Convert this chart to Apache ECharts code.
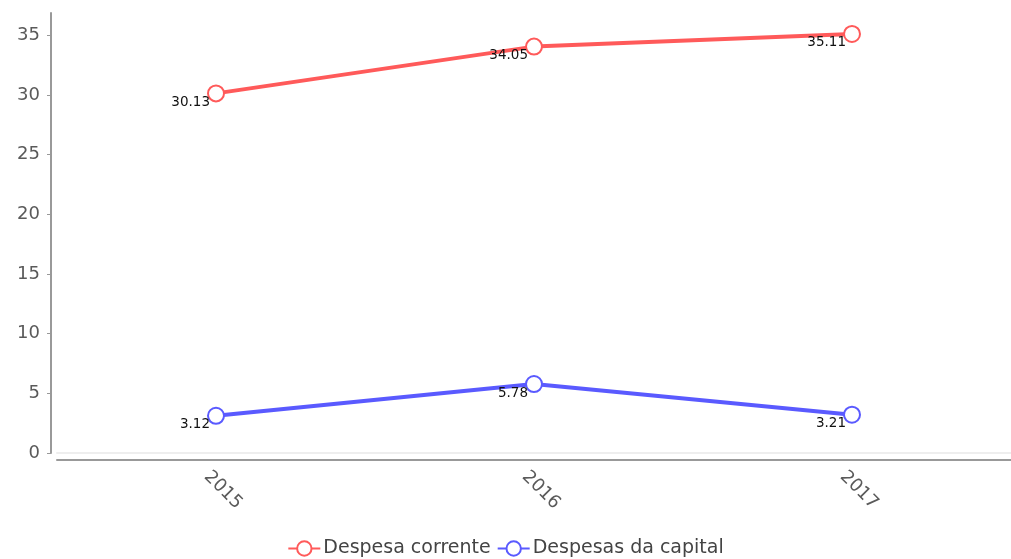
<!DOCTYPE html>
<html>
<head>
<meta charset="utf-8">
<script src="https://cdn.jsdelivr.net/npm/echarts@6/dist/echarts.min.js"></script>
<style>
  html, body { margin: 0; padding: 0; background: #fff; }
  #chart { width: 1011px; height: 559px; }
</style>
</head>
<body>
<div id="chart"></div>
<script>
// Years on the horizontal axis
var years = ['2015', '2016', '2017'];
// Series names and values
var nameCorrente = 'Despesa corrente';
var nameCapital = 'Despesas da capital';
var despesaCorrente = [30.13, 34.05, 35.11];
var despesasCapital = [3.12, 5.78, 3.21];

var chart = echarts.init(document.getElementById('chart'), null, { renderer: 'canvas' });

var axisFont = 'DejaVu Sans, Verdana, sans-serif';

function valueLabel() {
  return {
    show: true,
    position: 'left',
    offset: [8, 9],
    color: '#111',
    fontFamily: axisFont,
    fontSize: 13.5
  };
}

function lineSeries(name, data, color) {
  return {
    name: name,
    type: 'line',
    data: data,
    symbol: 'emptyCircle',
    symbolSize: 16,
    lineStyle: { color: color, width: 4 },
    itemStyle: { color: color, borderColor: color, borderWidth: 3 },
    label: valueLabel(),
    emphasis: { disabled: true },
    animation: false
  };
}

chart.setOption({
  backgroundColor: '#fff',
  animation: false,
  grid: { left: 57, right: -5, top: 13, bottom: 106 },
  legend: {
    bottom: -4,
    left: 'center',
    itemGap: 6,
    itemWidth: 32,
    itemHeight: 18,
    textStyle: { color: '#444', fontSize: 19, fontFamily: axisFont, padding: [0, 0, 0, -2] },
    data: [nameCorrente, nameCapital]
  },
  xAxis: [{
    type: 'category',
    data: years,
    offset: 7,
    boundaryGap: true,
    axisLine: { onZero: false, lineStyle: { color: '#999', width: 2 } },
    axisTick: { show: false },
    axisLabel: {
      rotate: -45,
      align: 'center',
      verticalAlign: 'middle',
      margin: 23,
      padding: [0, 0, 0, 20],
      color: '#5a5a5a',
      fontSize: 18,
      fontFamily: axisFont
    },
    z: 3
  }, {
    type: 'category',
    data: years,
    position: 'bottom',
    offset: 0,
    axisLine: { onZero: false, lineStyle: { color: '#eee', width: 2 } },
    axisTick: { show: false },
    axisLabel: { show: false }
  }],
  yAxis: {
    type: 'value',
    min: 0,
    max: function (v) { return v.max * 1.05; },
    interval: 5,
    offset: 6,
    axisLine: { show: true, lineStyle: { color: '#999', width: 2 } },
    axisTick: { show: true, length: 4, lineStyle: { color: '#999' } },
    splitLine: { show: false },
    axisLabel: {
      margin: 11,
      color: '#5a5a5a',
      fontSize: 18,
      fontFamily: axisFont,
      showMaxLabel: false
    }
  },
  series: [
    lineSeries(nameCorrente, despesaCorrente, '#ff5a5a'),
    lineSeries(nameCapital, despesasCapital, '#5a5aff')
  ]
});
</script>
</body>
</html>
